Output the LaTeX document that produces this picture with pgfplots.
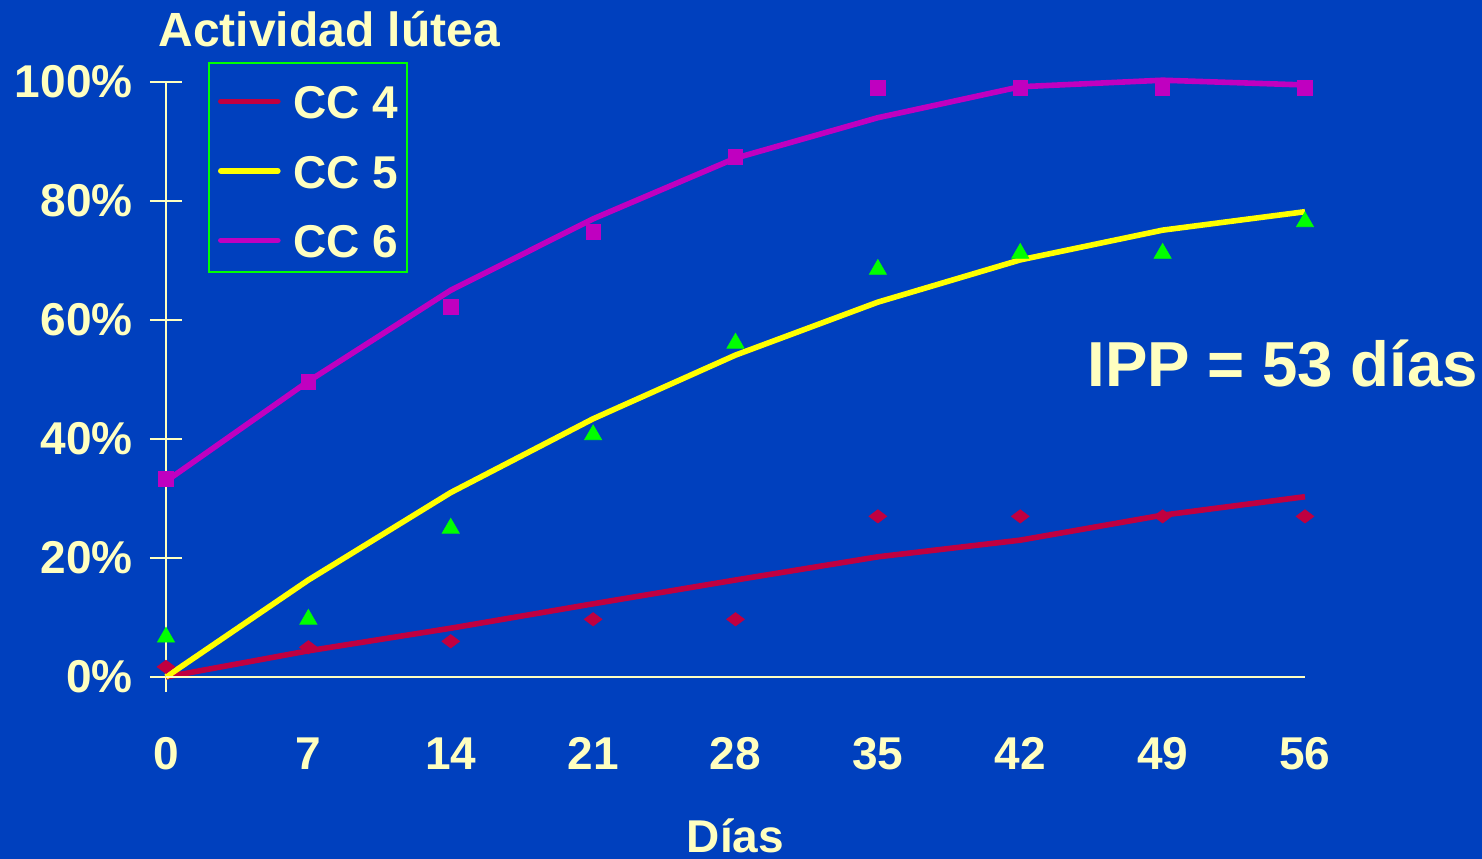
\documentclass[border=0pt]{standalone}
\usepackage{pgfplots}
\pgfplotsset{compat=1.18}
\usepackage{fontspec}
\setmainfont{Liberation Sans}

\definecolor{bgblue}{RGB}{0,64,190}
\definecolor{cream}{RGB}{255,255,192}
\definecolor{ccfour}{RGB}{192,0,64}
\definecolor{ccfive}{RGB}{255,255,0}
\definecolor{ccsix}{RGB}{192,0,192}
\definecolor{mkgreen}{RGB}{0,255,0}

\newcommand\lblfont{\fontsize{23bp}{27bp}\selectfont\bfseries}

\begin{document}
\begin{tikzpicture}
\path[use as bounding box, fill=bgblue] (0,0) rectangle (741bp,429.5bp);
\begin{axis}[
  at={(83bp,83.5bp)}, anchor=south west,
  scale only axis, width=569.5bp, height=305bp,
  xmin=0, xmax=56, ymin=-2.52, ymax=100,
  clip=false,
  axis lines=left,
  x axis line style={draw=none},
  y axis line style={cream, line width=1.2bp, -},
  xtick={0,7,14,21,28,35,42,49,56},
  xticklabels={0,7,14,21,28,35,42,49,56},
  xtick style={draw=none},
  ytick={0,20,40,60,80,100},
  yticklabels={0\%,20\%,40\%,60\%,80\%,100\%},
  ytick style={cream, line width=1.2bp},
  tick align=center,
  major tick length=16bp,
  xticklabel style={font=\lblfont, text=cream, inner sep=0pt, anchor=north, yshift=-14.5bp},
  yticklabel style={font=\lblfont, text=cream, inner sep=0pt, anchor=east, xshift=-8.5bp},
  xlabel={Días},
  xlabel style={font=\lblfont, text=cream, at={(axis description cs:0.5,0)}, anchor=base, inner sep=0pt, yshift=-80bp},
  every axis y label/.style={at={(axis description cs:0,1)}, anchor=base west, font=\fontsize{24bp}{28bp}\selectfont\bfseries, text=cream, inner sep=0pt, xshift=-4bp, yshift=17.5bp},
  ylabel={Actividad lútea},
  legend cell align=left,
  legend style={at={(0.0369,1.0328)}, anchor=north west, draw=mkgreen, line width=1bp, fill=none,
    inner xsep=4.5bp, inner ysep=7bp, row sep=13.75bp,
    nodes={inner sep=0pt, text=cream, font=\lblfont, text height=21bp, text depth=0pt},
    /tikz/every odd column/.append style={column sep=6.5bp}},
  legend image code/.code={\draw[#1, line width=2.8bp, line cap=round] (1.5bp,-1.7bp) -- (30bp,-1.7bp);},
]
% fitted curves
\addplot[ccfour, line width=2.8bp, line join=round] coordinates {
  (0,0) (7,4.4) (14,8.2) (21,12.3) (28,16.3) (35,20.2) (42,23) (49,27.2) (56,30.3)};
\addlegendentry{CC 4}
\addplot[ccfive, line width=2.8bp, line join=round] coordinates {
  (0,0) (7,16.3) (14,31) (21,43.4) (28,54.1) (35,63) (42,70.1) (49,75.1) (56,78.2)};
\addlegendentry{CC 5}
\addplot[ccsix, line width=2.8bp, line join=round] coordinates {
  (0,32.9) (7,49.7) (14,65) (21,77) (28,87.2) (35,94) (42,99.2) (49,100.3) (56,99.5)};
\addlegendentry{CC 6}
% observed values
\addplot[only marks, mark=diamond*, mark size=4.4bp, mark options={rotate=90, fill=ccfour, draw=ccfour}, forget plot] coordinates {
  (0,1.7) (7,5) (14,6) (21,9.7) (28,9.7) (35,27) (42,27) (49,27) (56,27)};
\addplot[only marks, mark=triangle*, mark size=4.9bp, mark options={fill=mkgreen, draw=mkgreen}, forget plot] coordinates {
  (0,6.7) (7,9.7) (14,25) (21,40.7) (28,56.1) (35,68.5) (42,71.2) (49,71.2) (56,76.5)};
\addplot[only marks, mark=square*, mark size=3.6bp, mark options={fill=ccsix, draw=ccsix}, forget plot] coordinates {
  (0,33.3) (7,49.6) (14,62.2) (21,74.8) (28,87.4) (35,99) (42,99) (49,99) (56,99)};
% zero baseline
\draw[cream, line width=1.2bp] (axis cs:0,0) -- (axis cs:56,0);
\end{axis}
\node[anchor=base west, font=\fontsize{31.8bp}{36bp}\selectfont\bfseries, text=cream, inner sep=0pt] at (543.5bp,236bp) {IPP = 53 días};
\end{tikzpicture}
\end{document}
